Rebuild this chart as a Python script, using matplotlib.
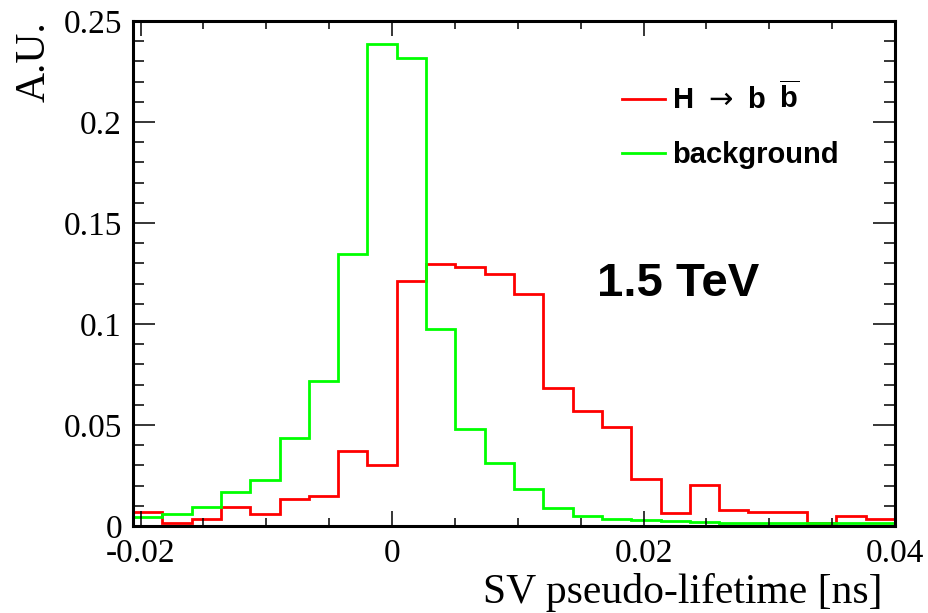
import numpy as np
import matplotlib
matplotlib.use('Agg')
import matplotlib.pyplot as plt
from matplotlib.ticker import MultipleLocator

# Histogram binning (26 equal bins)
x_min = -0.0206
x_max = 0.04
n_bins = 26

# Normalised bin contents
signal = [0.0068, 0.0013, 0.0035, 0.0094, 0.0061, 0.0135, 0.0148, 0.0370,
          0.0302, 0.1213, 0.1295, 0.1284, 0.1246, 0.1147, 0.0685, 0.0569,
          0.0492, 0.0234, 0.0063, 0.0201, 0.0081, 0.0071, 0.0071, 0.0016,
          0.0050, 0.0035]
background = [0.0046, 0.0058, 0.0094, 0.0167, 0.0228, 0.0434, 0.0718, 0.1347,
              0.2388, 0.2318, 0.0977, 0.0482, 0.0310, 0.0182, 0.0087, 0.0049,
              0.0036, 0.0030, 0.0026, 0.0021, 0.0016, 0.0015, 0.0015, 0.0014,
              0.0014, 0.0015]

labels = [r'$\mathbf{H}\ \rightarrow\ \mathbf{b}\ \,\overline{\mathbf{b}}$', 'background']
colors = ['#ff0000', '#00ff00']
energy_label = '1.5 TeV'

plt.rcParams['axes.unicode_minus'] = False
plt.rcParams['mathtext.fontset'] = 'custom'
plt.rcParams['mathtext.bf'] = 'Liberation Sans:bold'
plt.rcParams['mathtext.rm'] = 'DejaVu Sans'

edges = np.linspace(x_min, x_max, n_bins + 1)

fig = plt.figure(figsize=(9.29, 6.13), dpi=100)
ax = fig.add_axes([0.1432, 0.1419, 0.8202, 0.8238])

ax.stairs(signal, edges, color=colors[0], linewidth=2.0, label=labels[0])
ax.stairs(background, edges, color=colors[1], linewidth=2.0, label=labels[1])

ax.set_xlim(x_min, x_max)
ax.set_ylim(0, 0.25)

ax.xaxis.set_major_locator(MultipleLocator(0.02))
ax.xaxis.set_minor_locator(MultipleLocator(0.005))
ax.yaxis.set_major_locator(MultipleLocator(0.05))
ax.yaxis.set_minor_locator(MultipleLocator(0.01))
ax.xaxis.set_major_formatter(lambda v, p: '0' if abs(v) < 1e-9 else f'{v:g}')
ax.yaxis.set_major_formatter(lambda v, p: '0' if abs(v) < 1e-9 else f'{v:g}')

ax.tick_params(which='both', direction='in', top=True, right=True, width=1.1)
ax.tick_params(axis='x', which='major', length=11, pad=9)
ax.tick_params(axis='x', which='minor', length=6)
ax.tick_params(axis='y', which='major', length=16, pad=8)
ax.tick_params(axis='y', which='minor', length=8)
for lab in ax.get_xticklabels() + ax.get_yticklabels():
    lab.set_fontfamily('Liberation Serif')
    lab.set_fontsize(24)
for s in ax.spines.values():
    s.set_linewidth(2.2)

ax.set_xlabel('SV pseudo-lifetime [ns]', family='Liberation Serif', fontsize=30)
ax.xaxis.set_label_coords(0.984, -0.131)
ax.xaxis.label.set_horizontalalignment('right')
ax.xaxis.label.set_verticalalignment('center')
ax.set_ylabel('A.U.', family='Liberation Serif', fontsize=30)
ax.yaxis.set_label_coords(-0.129, 1.0)
ax.yaxis.label.set_horizontalalignment('right')
ax.yaxis.label.set_verticalalignment('center')

ax.text(0.0163, 0.1139, energy_label, family='Liberation Sans', fontweight='bold',
        fontsize=34)

leg = ax.legend(loc='upper left', bbox_to_anchor=(0.623, 0.909), frameon=False,
                prop={'family': 'Liberation Sans', 'weight': 'bold', 'size': 21},
                handlelength=1.45, handletextpad=0.25, labelspacing=0.9,
                borderpad=0)
for h in leg.get_lines():
    h.set_linewidth(2.0)

fig.savefig('out.png', dpi=100)
